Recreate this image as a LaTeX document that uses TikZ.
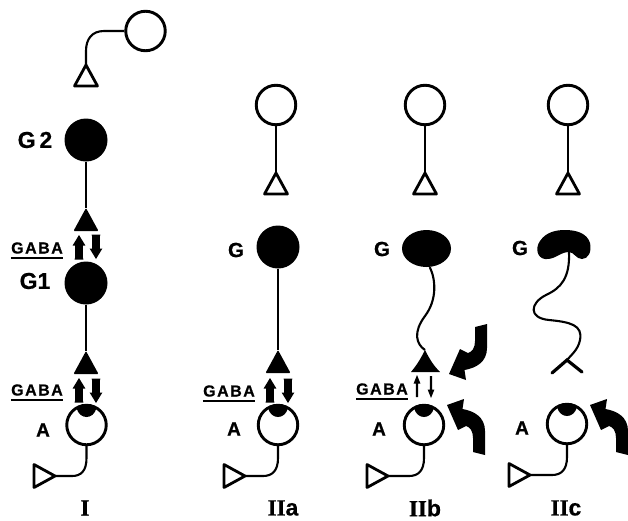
\documentclass[tikz,border=0pt]{standalone}
\usepackage{fontspec}
\setmainfont{Liberation Sans}[BoldFeatures={FakeBold=0.6}]
\newfontfamily\romfont{Liberation Serif}[BoldFeatures={FakeBold=0.6}]
\usetikzlibrary{shapes.geometric}

\tikzset{
  % neurone outlines and somata
  cell/.style={circle, draw, line width=2.9pt, minimum size=39.5pt, inner sep=0pt},
  glia/.style={circle, fill=black, minimum size=43pt, inner sep=0pt},
  axon/.style={line width=2.1pt},
  term/.style={line width=2.8pt, line join=round},
  lab/.style={inner sep=0pt, font=\bfseries\fontsize{#1}{#1}\selectfont},
  lab/.default=18,
  gaba/.style={inner sep=0pt, font=\bfseries\fontsize{16}{16}\selectfont},
  uline/.style={line width=1.8pt},
  roman/.style={inner sep=1pt, font=\bfseries\fontsize{23}{23}\selectfont},
  % open presynaptic terminal, apex at the origin
  opentri/.pic={\draw[term] (0,0) -- (11.5,21) -- (-11.5,21) -- cycle;},
  % open terminal pointing right, apex at the origin
  righttri/.pic={\draw[term] (0,0) -- (-21,-11.5) -- (-21,11.5) -- cycle;},
  % filled presynaptic terminal
  filltri/.pic={\fill[rounded corners=1pt] (0,0) -- (12.5,23) -- (-12.5,23) -- cycle;},
  % spiky terminal with hollow flanks
  spike/.pic={\fill (0,0) .. controls (-5,10) and (-9,16) .. (-14,22) -- (15,22)
                     .. controls (9,16) and (5,10) .. (0,0) -- cycle;},
  % dark postsynaptic density at the top of a cell
  cap/.pic={\fill (-10,-17) .. controls (-7,-5) and (7,-5) .. (10,-17)
                   -- (5,-20.3) -- (-5,-20.3) -- cycle;},
  % thick release/uptake arrow, tip at the origin
  blockarrow/.pic={\fill (0,0) -- (6.4,10.5) -- (3.8,10.5) -- (3.8,22) -- (4.4,24.5)
                        -- (-4.4,24.5) -- (-3.8,22) -- (-3.8,10.5) -- (-6.4,10.5) -- cycle;},
  % thin arrow, tip at the origin
  thinarrow/.pic={\fill (0,0) -- (3.4,8.5) -- (1.2,8.5) -- (1.2,22) -- (-1.2,22)
                       -- (-1.2,8.5) -- (-3.4,8.5) -- cycle;},
  % bent bold arrow, tip at the origin
  bent/.pic={\fill (0,0) -- (17,-6) -- (15.5,4) .. controls (27,6) and (38,12) .. (38,26)
                  -- (38,50) -- (26,47) -- (26,33) .. controls (26,26) and (23,22) .. (19,21)
                  -- (11,25) -- cycle;}
}

\begin{document}
\begin{tikzpicture}[x=1pt,y=-1pt]
\useasboundingbox (0,0) rectangle (628,520);

% ---------------- I ----------------
\node[cell] (T1) at (145.5,31) {};
\coordinate (t1) at (86,65);
\pic at (t1) {opentri};
\draw[axon] (T1.west) -- (104,31) .. controls (92,31) and (86,39) .. (86,51) -- (t1);

\node[glia] (G2) at (86,140) {};
\node[lab=23] (lG2) at (35,140) {G\,2};
\coordinate (p1) at (86,208);
\draw[axon] (G2.south) -- (p1);
\pic at (p1) {filltri};

\node[gaba] (gb1) at (37,248) {G\kern1.5pt A\kern1.5pt B\kern1.5pt A};
\draw[uline] ([yshift=-4pt]gb1.south west) -- ([yshift=-4pt]gb1.south east);
\pic at (79,235) {blockarrow};
\pic[rotate=180] at (96,259) {blockarrow};

\node[glia] (G1) at (86,283) {};
\node[lab=23] (lG1) at (35,281) {G1};
\coordinate (p2) at (86,351);
\draw[axon] (G1.south) -- (p2);
\pic at (p2) {filltri};

\node[gaba] (gb2) at (37,390) {G\kern1.5pt A\kern1.5pt B\kern1.5pt A};
\draw[uline] ([yshift=-4pt]gb2.south west) -- ([yshift=-4pt]gb2.south east);
\pic at (79,378) {blockarrow};
\pic[rotate=180] at (96,403) {blockarrow};

\node[cell] (A1) at (86.5,425) {};
\pic at (A1) {cap};
\node[lab=19] (lA1) at (43,430) {A};
\coordinate (a1) at (55,476);
\draw[axon] (A1.south) -- (86.5,458) .. controls (86.5,471) and (81,476) .. (72,476) -- (a1);
\pic at (a1) {righttri};
\node[roman] (r1) at (85,508) {\romfont I};

% ---------------- IIa ----------------
\node[cell] (T2) at (276,105) {};
\coordinate (t2) at (276,173);
\draw[axon] (T2.south) -- (t2);
\pic at (t2) {opentri};

\node[glia] (G3) at (278,247) {};
\node[lab=20.5] (lG3) at (236,250) {G};
\coordinate (p3) at (278,350);
\draw[axon] (G3.south) -- (p3);
\pic at (p3) {filltri};

\node[gaba] (gb3) at (229,391) {G\kern1.5pt A\kern1.5pt B\kern1.5pt A};
\draw[uline] ([yshift=-4pt]gb3.south west) -- ([yshift=-4pt]gb3.south east);
\pic at (270,378) {blockarrow};
\pic[rotate=180] at (288,403) {blockarrow};

\node[cell] (A2) at (278,425) {};
\pic at (A2) {cap};
\node[lab=19] (lA2) at (234,429) {A};
\coordinate (a2) at (245,476);
\draw[axon] (A2.south) -- (278,458) .. controls (278,471) and (272,476) .. (263,476) -- (a2);
\pic at (a2) {righttri};
\node[roman] (r2) at (283,508) {{\romfont II}a};

% ---------------- IIb ----------------
\node[cell] (T3) at (425,105) {};
\coordinate (t3) at (425,173);
\draw[axon] (T3.south) -- (t3);
\pic at (t3) {opentri};

\node[ellipse, fill=black, minimum width=49pt, minimum height=37pt, inner sep=0pt]
  (G4) at (426.5,248.5) {};
\node[lab=20.5] (lG4) at (382,249) {G};
\coordinate (p4) at (425,350);
\draw[axon] (G4.-80) .. controls (436,280) and (437,300) .. (425,316)
  .. controls (413,332) and (416,344) .. (p4);
\pic at (p4) {spike};

\node[gaba] (gb4) at (382,389) {G\kern1.5pt A\kern1.5pt B\kern1.5pt A};
\draw[uline] ([yshift=-4pt]gb4.south west) -- ([yshift=-4pt]gb4.south east);
\pic at (417,375) {thinarrow};
\pic[rotate=180] at (431,398) {thinarrow};

\node[cell] (A3) at (424,425) {};
\pic at (A3) {cap};
\node[lab=19] (lA3) at (379,429) {A};
\coordinate (a3) at (388,476);
\draw[axon] (A3.south) -- (424,458) .. controls (424,471) and (418,476) .. (409,476) -- (a3);
\pic at (a3) {righttri};
\node[roman] (r3) at (425,508) {{\romfont II}b};

\pic[yscale=-1] at (449,374) {bent};
\pic at (447,405) {bent};

% ---------------- IIc ----------------
\node[cell] (T4) at (568,105) {};
\coordinate (t4) at (568,173);
\draw[axon] (T4.south) -- (t4);
\pic at (t4) {opentri};

% bean-shaped soma
\coordinate (k) at (569,252);
\fill (k) .. controls (560,252) and (555,260) .. (545,259)
  .. controls (537,258) and (535,248) .. (540,241)
  .. controls (546,232) and (556,230) .. (565,230)
  .. controls (576,230) and (587,233) .. (590,243)
  .. controls (592,252) and (588,259) .. (582,259)
  .. controls (576,259) and (574,252) .. (k) -- cycle;
\node[lab=20.5] (lG5) at (520,248) {G};
\coordinate (f) at (567,360);
\draw[axon] (k) .. controls (570,278) and (561,288) .. (546,295)
  .. controls (530,303) and (528,318) .. (549,320)
  .. controls (570,322) and (583,325) .. (580,340)
  .. controls (578,350) and (571,355) .. (f);
\coordinate (fl) at (552,373);
\coordinate (fr) at (582,372);
\draw[line width=3.2pt, line cap=round] (fl) -- (f) -- (fr);

\node[cell] (A4) at (567,424) {};
\pic at (A4) {cap};
\node[lab=19] (lA4) at (522,428) {A};
\coordinate (a4) at (530,475);
\draw[axon] (A4.south) -- (567,457) .. controls (567,470) and (561,475) .. (552,475) -- (a4);
\pic at (a4) {righttri};
\node[roman] (r4) at (566,508) {{\romfont II}c};

\pic at (590,405) {bent};
\end{tikzpicture}
\end{document}
